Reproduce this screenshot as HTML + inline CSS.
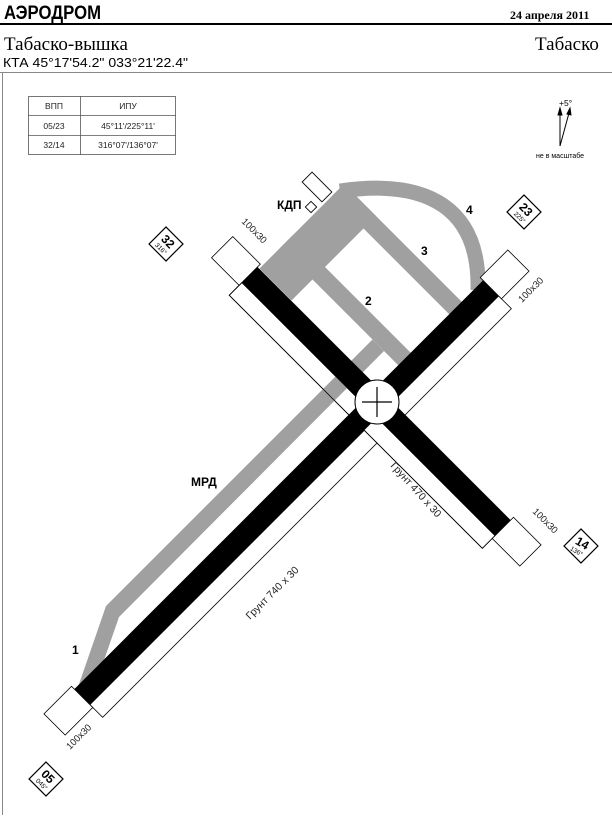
<!DOCTYPE html>
<html><head><meta charset="utf-8"><style>
body{margin:0;width:612px;height:815px;background:#fff;overflow:hidden}
svg text{font-family:"Liberation Sans","DejaVu Sans",sans-serif}
</style></head><body>
<svg width="612" height="815" viewBox="0 0 612 815" xmlns="http://www.w3.org/2000/svg">
<text x="4" y="19" font-size="19" font-weight="bold" textLength="97" lengthAdjust="spacingAndGlyphs">АЭРОДРОМ</text>
<text x="510" y="19" font-size="12" font-weight="bold" style="font-family:'Liberation Serif',serif">24 апреля 2011</text>
<rect x="0" y="23" width="612" height="2" fill="#000"/>
<text x="4" y="50" font-size="19" style="font-family:'Liberation Serif',serif">Табаско-вышка</text>
<text x="535" y="50" font-size="19" style="font-family:'Liberation Serif',serif">Табаско</text>
<text x="3" y="67" font-size="13" textLength="185" lengthAdjust="spacingAndGlyphs">КТА 45°17'54.2"  033°21'22.4"</text>
<line x1="0" y1="72.5" x2="612" y2="72.5" stroke="#888" stroke-width="1"/>
<line x1="2.5" y1="72" x2="2.5" y2="815" stroke="#888" stroke-width="1"/>

<g stroke="#555" stroke-width="0.8" fill="none">
<rect x="28.5" y="96.5" width="147" height="58"/>
<line x1="28" y1="115.5" x2="176" y2="115.5"/>
<line x1="28" y1="135.5" x2="176" y2="135.5"/>
<line x1="80.5" y1="96" x2="80.5" y2="155"/>
</g>
<g font-size="8.5" fill="#222" text-anchor="middle">
<text x="54" y="109">ВПП</text><text x="128" y="109">ИПУ</text>
<text x="54" y="129">05/23</text><text x="128" y="129">45°11'/225°11'</text>
<text x="54" y="148">32/14</text><text x="128" y="148">316°07'/136°07'</text>
</g>

<g stroke="#000" stroke-width="1" fill="#000">
<line x1="560" y1="146" x2="560" y2="113"/>
<line x1="560" y1="146" x2="569" y2="113"/>
<polygon points="558,115 560,108 562,115"/>
<polygon points="567,114 570,108 571,115"/>
</g>
<text x="559" y="106" font-size="8.5">+5°</text>
<text x="536" y="158" font-size="7">не в масштабе</text>

<g fill="#fff" stroke="#000" stroke-width="0.8">
<g transform="translate(377,402) rotate(-45)">
<rect x="-417" y="11" width="578" height="18"/>
</g>
<g transform="translate(377,402) rotate(45)">
<rect x="-180" y="11" width="358" height="18"/>
</g>
</g>

<g fill="#a0a0a0">
<polygon points="344,184 376,216 291.5,300.5 259.5,268.5"/>
<polygon points="344,184 469.5,309.5 457,322 331.5,196.5"/>
<polygon points="293,235 414,356 401.5,368.5 280.5,247.5"/>
<polygon points="372.5,339.5 106,606 77,690 93,692 119,617 384,351"/>
</g>
<path d="M340,191 C430,178 480,210 478,290" fill="none" stroke="#a0a0a0" stroke-width="15"/>
<g fill="none" stroke="#000" stroke-width="0.8">
<g transform="translate(377,402) rotate(45)">
<rect x="-180" y="11" width="358" height="18"/>
</g>
</g>

<g transform="translate(377,402) rotate(-45)">
<rect x="-417" y="-11" width="578" height="22" fill="#000"/>
<rect x="-456" y="-15" width="39" height="30" fill="#fff" stroke="#000" stroke-width="0.8"/>
<rect x="161" y="-15" width="39" height="30" fill="#fff" stroke="#000" stroke-width="0.8"/>
</g>
<g transform="translate(377,402) rotate(45)">
<rect x="-180" y="-11" width="358" height="22" fill="#000"/>
<rect x="-219" y="-15" width="39" height="30" fill="#fff" stroke="#000" stroke-width="0.8"/>
<rect x="178" y="-15" width="39" height="30" fill="#fff" stroke="#000" stroke-width="0.8"/>
</g>

<circle cx="377" cy="402" r="22" fill="#fff" stroke="#000" stroke-width="1"/>
<line x1="362" y1="402" x2="392" y2="402" stroke="#000" stroke-width="1.2"/>
<line x1="377" y1="387" x2="377" y2="417" stroke="#000" stroke-width="1.2"/>

<g fill="#fff" stroke="#000" stroke-width="0.9">
<rect x="-14" y="-7" width="28" height="14" transform="translate(317,187) rotate(45)"/>
<rect x="-4" y="-4" width="8" height="8" transform="translate(311,207) rotate(45)"/>
</g>
<text x="277" y="209" font-size="12" font-weight="bold">КДП</text>

<g font-size="12" font-weight="bold">
<text x="365" y="305">2</text>
<text x="421" y="255">3</text>
<text x="466" y="214">4</text>
<text x="72" y="654">1</text>
<text x="191" y="486">МРД</text>
</g>
<g font-size="9.5" fill="#222">
<text transform="translate(241,222) rotate(45)">100x30</text>
<text transform="translate(522,303) rotate(-45)">100x30</text>
<text transform="translate(532,512) rotate(45)">100x30</text>
<text transform="translate(70,750) rotate(-45)">100x30</text>
<text transform="translate(250,620) rotate(-45)" font-size="10.5">Грунт 740 x 30</text>
<text transform="translate(390,466) rotate(48)" font-size="10.5">Грунт 470 x 30</text>
</g>

<g fill="none" stroke="#000" stroke-width="1.2">
<rect x="-12" y="-12" width="24" height="24" transform="translate(166,244) rotate(45)"/>
<rect x="-12" y="-12" width="24" height="24" transform="translate(524,212) rotate(45)"/>
<rect x="-12" y="-12" width="24" height="24" transform="translate(581,546) rotate(45)"/>
<rect x="-12" y="-12" width="24" height="24" transform="translate(46,779) rotate(45)"/>
</g>
<g transform="translate(166,244) rotate(45)"><text x="-7" y="1" font-size="12" font-weight="bold">32</text><text x="-7" y="9" font-size="6.5">316°</text></g>
<g transform="translate(524,212) rotate(45)"><text x="-7" y="1" font-size="12" font-weight="bold">23</text><text x="-6" y="9" font-size="6.5">225°</text></g>
<g transform="translate(581,546) rotate(30)"><text x="-7" y="1" font-size="12" font-weight="bold">14</text><text x="-8" y="9" font-size="6.5">136°</text></g>
<g transform="translate(46,779) rotate(45)"><text x="-7" y="1" font-size="12" font-weight="bold">05</text><text x="-6" y="9" font-size="6.5">045°</text></g>
</svg>
</body></html>
